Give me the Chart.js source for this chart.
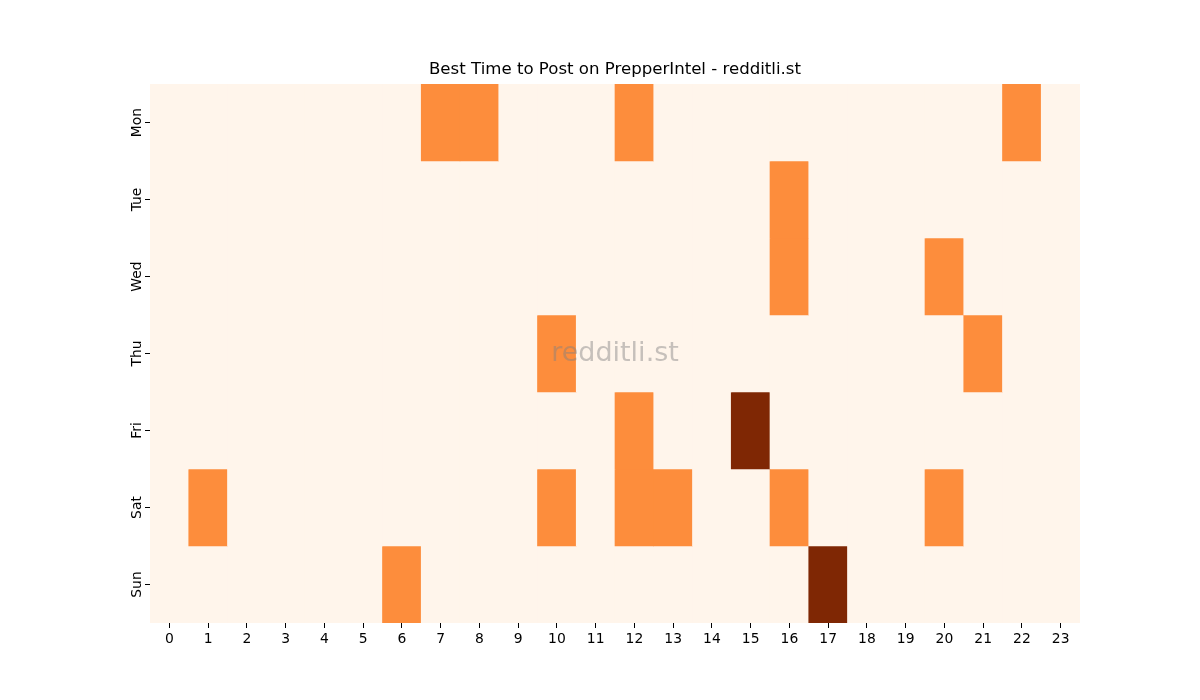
<!DOCTYPE html>
<html>
<head>
<meta charset="utf-8">
<script src="https://cdn.jsdelivr.net/npm/chart.js@4/dist/chart.umd.min.js"></script>
<style>
  html, body { margin: 0; padding: 0; background: #fff; }
  #wrap { width: 1200px; height: 700px; }
</style>
</head>
<body>
<div id="wrap"><canvas id="heat" width="1200" height="700"></canvas></div>
<script>
// hours along x, days down y
var hours = ['0','1','2','3','4','5','6','7','8','9','10','11','12','13','14','15','16','17','18','19','20','21','22','23'];
var days = ['Mon', 'Tue', 'Wed', 'Thu', 'Fri', 'Sat', 'Sun'];
var title = 'Best Time to Post on PrepperIntel - redditli.st';

// post counts per hour, one row per day
var mon = [0,0,0,0,0,0,0,1,1,0,0,0,1,0,0,0,0,0,0,0,0,0,1,0];
var tue = [0,0,0,0,0,0,0,0,0,0,0,0,0,0,0,0,1,0,0,0,0,0,0,0];
var wed = [0,0,0,0,0,0,0,0,0,0,0,0,0,0,0,0,1,0,0,0,1,0,0,0];
var thu = [0,0,0,0,0,0,0,0,0,0,1,0,0,0,0,0,0,0,0,0,0,1,0,0];
var fri = [0,0,0,0,0,0,0,0,0,0,0,0,1,0,0,2,0,0,0,0,0,0,0,0];
var sat = [0,1,0,0,0,0,0,0,0,0,1,0,1,1,0,0,1,0,0,0,1,0,0,0];
var sun = [0,0,0,0,0,0,1,0,0,0,0,0,0,0,0,0,0,2,0,0,0,0,0,0];
var rows = [mon, tue, wed, thu, fri, sat, sun];

var palette = ['#fff5eb', '#fd8d3c', '#7f2704'];
var FONT = "'DejaVu Sans', sans-serif";

var datasets = rows.map(function(row, d) {
  return {
    label: days[d],
    data: row.map(function() { return [d, d + 1]; }),
    backgroundColor: row.map(function(v) { return palette[v]; }),
    borderWidth: 0,
    grouped: false,
    barPercentage: 1,
    categoryPercentage: 1
  };
});

// title, rotated day labels and the faint watermark
var decor = {
  id: 'decor',
  afterDraw: function(chart) {
    var a = chart.chartArea, ctx = chart.ctx;
    var cx = (a.left + a.right) / 2;
    ctx.save();
    ctx.fillStyle = '#000';
    ctx.font = '16.6px ' + FONT;
    ctx.textAlign = 'center';
    ctx.textBaseline = 'middle';
    ctx.fillText(title, cx, 70);

    var ys = chart.scales.y;
    ctx.font = '13.9px ' + FONT;
    ctx.textBaseline = 'alphabetic';
    days.forEach(function(d, i) {
      ctx.save();
      ctx.translate(a.left - 9, ys.getPixelForValue(i + 0.5));
      ctx.rotate(-Math.PI / 2);
      ctx.fillText(d, 0, 0);
      ctx.restore();
    });

    ctx.font = '27px ' + FONT;
    ctx.fillStyle = 'rgba(128,128,128,0.45)';
    ctx.textBaseline = 'middle';
    ctx.fillText('redditli.st', cx, (a.top + a.bottom) / 2);
    ctx.restore();
  }
};

new Chart(document.getElementById('heat'), {
  type: 'bar',
  data: { labels: hours, datasets: datasets },
  plugins: [decor],
  options: {
    responsive: false,
    animation: false,
    layout: { padding: { left: 110, right: 120, top: 84, bottom: 47 } },
    plugins: {
      legend: { display: false },
      tooltip: { enabled: false },
      title: { display: false }
    },
    scales: {
      x: {
        type: 'category',
        offset: true,
        grid: { display: true, drawOnChartArea: false, offset: false, tickLength: 5, color: '#000', tickColor: '#000' },
        border: { display: false },
        ticks: { color: '#000', font: { family: FONT, size: 13.9 }, padding: 3, maxRotation: 0, autoSkip: false },
        afterFit: function(s) { s.height = 30; }
      },
      y: {
        type: 'linear',
        min: 0,
        max: 7,
        reverse: true,
        grid: { display: true, drawOnChartArea: false, tickLength: 5, color: '#000', tickColor: '#000' },
        border: { display: false },
        afterBuildTicks: function(s) {
          s.ticks = days.map(function(_, i) { return { value: i + 0.5 }; });
        },
        ticks: { display: false },
        afterFit: function(s) { s.width = 40; }
      }
    }
  }
});
</script>
</body>
</html>
